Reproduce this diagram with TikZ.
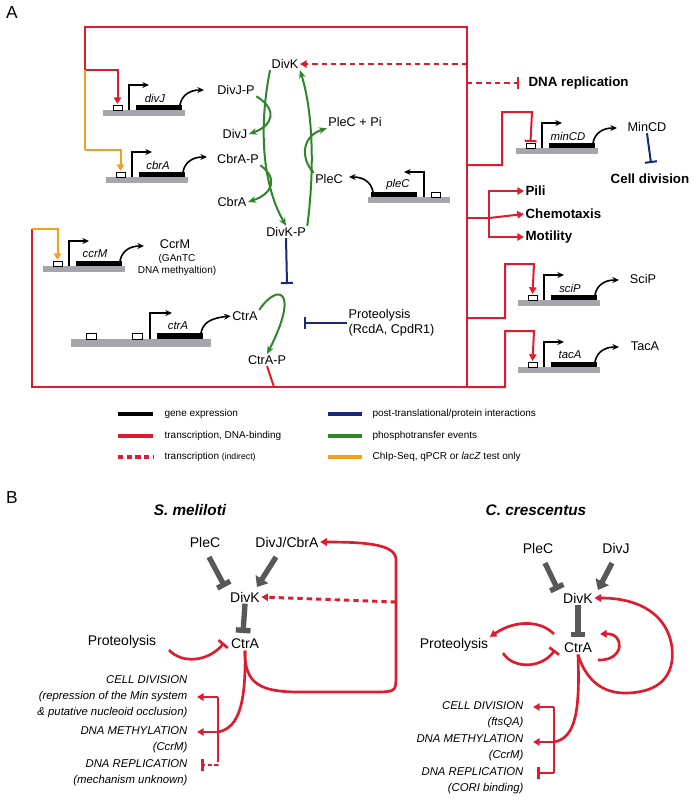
\documentclass[tikz,border=0pt]{standalone}
\usepackage{fontspec}
\setmainfont{Liberation Sans}
\usetikzlibrary{arrows.meta}

\definecolor{regred}{RGB}{222,28,45}
\definecolor{phosgreen}{RGB}{45,135,40}
\definecolor{protblue}{RGB}{25,40,125}
\definecolor{chiporange}{RGB}{242,160,30}
\definecolor{dnagray}{RGB}{165,165,172}
\definecolor{netgray}{RGB}{88,88,88}

\tikzset{
    trans/.style = {regred, line width=1.5pt},
    indirect/.style = {regred, line width=1.5pt, dash pattern=on 4pt off 3pt},
    chip/.style = {chiporange, line width=1.5pt},
    phos/.style = {phosgreen, line width=1.5pt, -{Stealth[length=6pt,width=5pt]}},
    prot/.style = {protblue, line width=1.5pt, -{Bar[width=9pt]}},
    expr/.style = {black, line width=1.2pt, -{Stealth[length=5pt,width=4.5pt]}},
    act/.style = {-{Triangle[length=5pt,width=5.5pt]}},
    inh/.style = {-{Bar[width=9pt]}},
    lbl/.style = {font=\fontsize{9.5}{11}\selectfont, inner sep=1pt},
    small/.style = {font=\fontsize{7.5}{8.5}\selectfont, inner sep=1pt, align=center},
    big/.style = {font=\bfseries\fontsize{10}{12}\selectfont, inner sep=1pt, anchor=west},
    legend/.style = {font=\fontsize{7.5}{9}\selectfont, inner sep=1pt, anchor=west},
    net/.style = {font=\fontsize{10.5}{12}\selectfont, inner sep=1pt},
    nettip/.style = {netgray, line width=4pt, -{Triangle[length=7pt,width=11pt]}},
    netbar/.style = {netgray, line width=4pt, -{Bar[width=11pt]}},
    btrans/.style = {regred, line width=2pt},
    outlbl/.style = {font=\itshape\fontsize{8.5}{12}\selectfont, inner sep=1pt, anchor=east, align=right}
}

% gene cartoon: #1 = name, #2 = label
\newcommand\genecartoon[2]{
    \fill[dnagray] (0,0) rectangle (82,6);
    \draw[line width=0.6pt, fill=white] (10,-5) rectangle (19,0);
    \fill[black] (33,-5) rectangle (79,0);
    \draw[expr] (26,0) -- (26,-25) -- (46,-25);
    \node[lbl, font=\itshape\fontsize{8.5}{10}\selectfont] at (52,-12) {#2};
    \draw[expr] (77,-5) .. controls (79,-16) and (88,-20) .. (101,-20);
    \coordinate (#1-p) at (14.5,-6);
}

\begin{document}
\begin{tikzpicture}[x=0.75pt, y=-0.75pt]
    \useasboundingbox (0,0) rectangle (694,800);

    % Panel A
    \node[font=\fontsize{13}{14}\selectfont] at (12,13) {A};

    \node[lbl] (DivK) at (285,64) {DivK};
    \node[lbl] (DivKP) at (286,232) {DivK-P};
    \node[lbl] (DivJP) at (236,90) {DivJ-P};
    \node[lbl] (DivJ) at (235,134) {DivJ};
    \node[lbl] (CbrAP) at (238,159) {CbrA-P};
    \node[lbl] (CbrA) at (232,202) {CbrA};
    \node[lbl] (PleCPi) at (355,122) {PleC + Pi};
    \node[lbl] (PleC) at (329,179) {PleC};
    \node[lbl] (CtrA) at (245,316) {CtrA};
    \node[lbl] (CtrAP) at (267,360) {CtrA-P};
    \node[lbl] (CcrM) at (175,244) {CcrM};
    \node[small] (CcrMnote) at (177,265) {(GAnTC\\DNA methyaltion)};
    \node[lbl, align=left, anchor=west] (Prot) at (347,323) {Proteolysis\\(RcdA, CpdR1)};
    \node[lbl] (MinCD) at (647,127) {MinCD};
    \node[big, anchor=center] (CellDiv) at (650,179) {Cell division};
    \node[big] (DNArep) at (527,83) {DNA replication};
    \node[big] (Pili) at (524,191) {Pili};
    \node[big] (Chemo) at (524,214) {Chemotaxis};
    \node[big] (Moti) at (524,237) {Motility};
    \node[lbl] (SciP) at (643,279) {SciP};
    \node[lbl] (TacA) at (645,346) {TacA};

    % genes
    \begin{scope}[shift={(103,110)}] \genecartoon{divJ}{divJ} \end{scope}
    \begin{scope}[shift={(106,177)}] \genecartoon{cbrA}{cbrA} \end{scope}
    \begin{scope}[shift={(43,266)}] \genecartoon{ccrM}{ccrM} \end{scope}
    \begin{scope}[shift={(516,148)}] \genecartoon{minCD}{minCD} \end{scope}
    \begin{scope}[shift={(518,300)}] \genecartoon{sciP}{sciP} \end{scope}
    \begin{scope}[shift={(518,367)}] \genecartoon{tacA}{tacA} \end{scope}
    \begin{scope}[shift={(450,197)}, xscale=-1] \genecartoon{pleC}{pleC} \end{scope}
    % ctrA
    \fill[dnagray] (71,339) rectangle (211,347);
    \draw[line width=0.6pt, fill=white] (86,333) rectangle (96,339);
    \draw[line width=0.6pt, fill=white] (132,333) rectangle (142,339);
    \fill[black] (157,333) rectangle (203,339);
    \draw[expr] (150,339) -- (150,313) -- (172,313);
    \node[lbl, font=\itshape\fontsize{8.5}{10}\selectfont] at (178,326) {ctrA};
    \draw[expr] (201,333) .. controls (203,322) and (212,318) .. (CtrA.west);

    % red wiring of the box
    \draw[trans] (85,70) |- (467,27) -- (467,387) -| (32,229);
    \draw[trans] (274,387) -- (CtrAP.south);
    \draw[trans, act] (85,70) -| (divJ-p);
    \draw[chip] (85,70) -- (85,150);
    \draw[chip, act] (85,150) -| (cbrA-p);
    \draw[chip, act] (32,229) -| (ccrM-p);
    \draw[indirect, act] (467,64) -- (DivK.east);
    \draw[indirect, inh] (467,83) -- (519,83);
    \draw[trans, inh] (467,165) -- (502,165) |- (532,112) -- (minCD-p);
    \draw[trans] (467,218) -- (489,218);
    \draw[trans, act] (489,218) |- (Pili.west);
    \draw[trans, act] (489,218) -- (Chemo.west);
    \draw[trans, act] (489,218) |- (Moti.west);
    \draw[trans, act] (467,318) -- (505,318) |- (534,264) -- (sciP-p);
    \draw[trans, act] (467,387) -- (505,387) |- (534,331) -- (tacA-p);

    % phosphotransfer
    \draw[phos] (DivK.south west) .. controls (260,120) and (260,180) .. (DivKP.north);
    \draw[phos] (DivKP.north east) .. controls (314,175) and (314,115) .. (DivK.south east);
    \draw[phos] (DivJP.south east) .. controls (279,110) and (272,126) .. (DivJ.east);
    \draw[phos] (CbrAP.south east) .. controls (279,179) and (272,194) .. (CbrA.east);
    \draw[phos] (PleC.north west) .. controls (300,158) and (302,136) .. (PleCPi.south west);
    \draw[phos] (CtrA.north east) .. controls (278,282) and (300,290) .. (CtrAP.north);

    % protein interactions
    \draw[prot] (DivKP.south) -- (287,284);
    \draw[prot] (Prot.west) -- (304,323);
    \draw[prot] (MinCD.south) -- (651,163);

    % legend
    \draw[black, line width=3pt] (118,414) -- (153,414);
    \node[legend] at (163,414) {gene expression};
    \draw[regred, line width=3pt] (118,436) -- (153,436);
    \node[legend] at (163,436) {transcription, DNA-binding};
    \draw[regred, line width=3pt, dash pattern=on 4pt off 2.5pt] (118,457) -- (153,457);
    \node[legend] at (163,457) {transcription {\fontsize{6.5}{8}\selectfont(indirect)}};
    \draw[protblue, line width=3pt] (328,414) -- (362,414);
    \node[legend] at (371,414) {post-translational/protein interactions};
    \draw[phosgreen, line width=3pt] (328,436) -- (362,436);
    \node[legend] at (371,436) {phosphotransfer events};
    \draw[chiporange, line width=3pt] (328,457) -- (362,457);
    \node[legend] at (371,457) {ChIp-Seq, qPCR or \textit{lacZ} test only};

    % Panel B
    \node[font=\fontsize{13}{14}\selectfont] at (12,498) {B};
    \node[font=\bfseries\itshape\fontsize{11.5}{13}\selectfont] at (190,510) {S. meliloti};
    \node[font=\bfseries\itshape\fontsize{11.5}{13}\selectfont] at (536,510) {C. crescentus};

    % S. meliloti
    \node[net] (smPleC) at (205,542) {PleC};
    \node[net] (smDivJ) at (287,542) {DivJ/CbrA};
    \node[net] (smDivK) at (245,597) {DivK};
    \node[net] (smCtrA) at (245,644) {CtrA};
    \node[net] (smProt) at (122,642) {Proteolysis};
    \draw[netbar] (209,557) -- (225,587);
    \draw[nettip] (276,557) -- (257,587);
    \draw[netbar] (smDivK.south) -- (243,633);
    \draw[indirect, line width=2.2pt, act] (396,602) -- (smDivK.east);
    \draw[btrans, act] (smCtrA.south) .. controls (244,685) and (262,692) .. (300,692)
        -- (372,692) .. controls (396,692) and (396,692) .. (396,675) -- (396,560)
        .. controls (396,545) and (370,542) .. (smDivJ.east);
    \draw[btrans, inh] (169,650) .. controls (182,664) and (208,662) .. (224,643);
    \node[outlbl] (smCell) at (189,697) {CELL DIVISION\\(repression of the Min system\\\& putative nucleoid occlusion)};
    \node[outlbl] (smMeth) at (189,740) {DNA METHYLATION\\(CcrM)};
    \node[outlbl] (smRep) at (189,773) {DNA REPLICATION\\(mechanism unknown)};
    \draw[btrans] (smCtrA.south) .. controls (246,700) and (240,728) .. (218,732);
    \draw[btrans] (218,697) -- (218,758);
    \draw[btrans, act] (218,697) -- (197,697);
    \draw[btrans, act] (218,732) -- (197,732);
    \draw[btrans, dash pattern=on 3pt off 2pt, inh] (218,758) |- (201,765);

    % C. crescentus
    \node[net] (ccPleC) at (538,548) {PleC};
    \node[net] (ccDivJ) at (616,548) {DivJ};
    \node[net] (ccDivK) at (578,598) {DivK};
    \node[net] (ccCtrA) at (578,648) {CtrA};
    \node[net] (ccProt) at (454,645) {Proteolysis};
    \draw[netbar] (545,563) -- (558,590);
    \draw[nettip] (612,563) -- (598,590);
    \draw[netbar] (ccDivK.south) -- (578,637);
    \draw[btrans, act] (ccCtrA.south) .. controls (586,680) and (602,693) .. (625,693)
        .. controls (660,693) and (675,675) .. (672,648)
        .. controls (668,615) and (640,598) .. (ccDivK.east);
    \draw[btrans, act] (598,660) .. controls (625,661) and (625,633) .. (600,634);
    \draw[btrans, act] (554,634) .. controls (540,620) and (515,620) .. (ccProt.north east);
    \draw[btrans, inh] (503,653) .. controls (512,668) and (540,670) .. (555,650);
    \node[outlbl] (ccCell) at (525,715) {CELL DIVISION\\(ftsQA)};
    \node[outlbl] (ccMeth) at (525,748) {DNA METHYLATION\\(CcrM)};
    \node[outlbl] (ccRep) at (525,781) {DNA REPLICATION\\(CORI binding)};
    \draw[btrans] (ccCtrA.south) .. controls (580,710) and (576,738) .. (554,742);
    \draw[btrans] (554,707) -- (554,773);
    \draw[btrans, act] (554,707) -- (533,707);
    \draw[btrans, act] (554,742) -- (533,742);
    \draw[btrans, inh] (554,773) -- (537,773);
\end{tikzpicture}
\end{document}
